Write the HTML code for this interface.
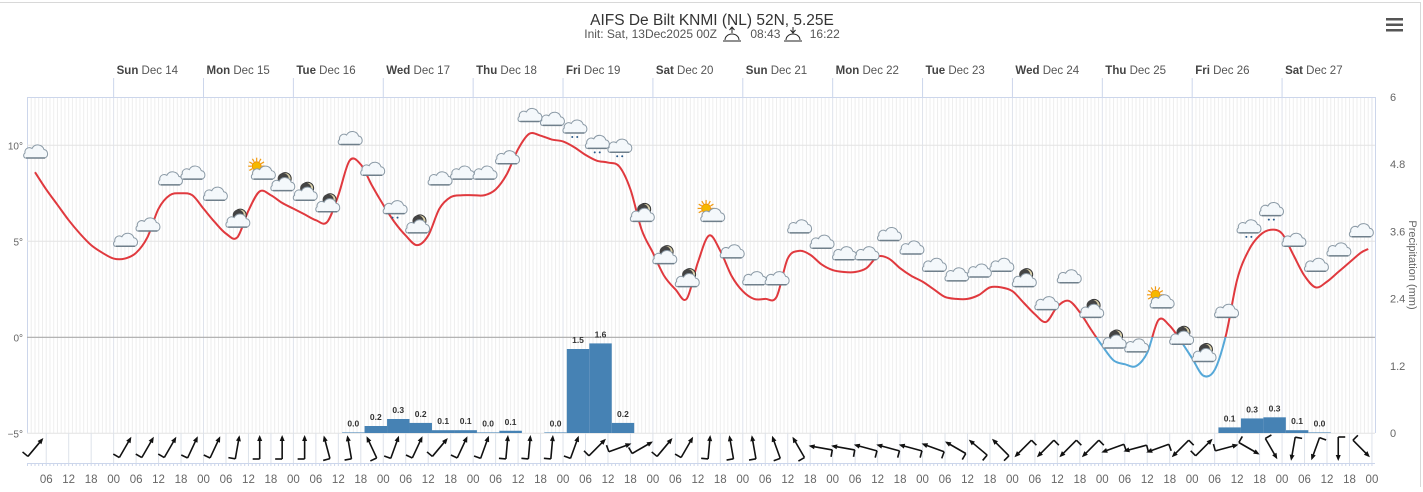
<!DOCTYPE html>
<html><head><meta charset="utf-8"><style>
html,body{margin:0;padding:0;background:#fff;}
body{width:1423px;height:487px;overflow:hidden;font-family:"Liberation Sans",sans-serif;}
svg text{font-family:"Liberation Sans",sans-serif;}
</style></head><body>
<svg id="chart" width="1423" height="487" viewBox="0 0 1423 487" xmlns="http://www.w3.org/2000/svg">
<line x1="0" y1="2.5" x2="1420" y2="2.5" stroke="#d8d8d8"/>
<line x1="1420.5" y1="2" x2="1420.5" y2="487" stroke="#d8d8d8"/>
<text x="712" y="25" text-anchor="middle" font-size="15.5" fill="#333">AIFS De Bilt KNMI (NL) 52N, 5.25E</text>
<text x="712" y="38" text-anchor="middle" font-size="12" fill="#555">Init: Sat, 13Dec2025 00Z <tspan dx="30">08:43</tspan> <tspan dx="26">16:22</tspan></text>
<g stroke="#222" fill="none" stroke-width="1"><path d="M725 40 a7 6 0 0 1 14 0"/><line x1="723" y1="41" x2="741" y2="41"/><line x1="732" y1="27" x2="732" y2="33"/><path d="M729.5 30 l2.5-3 2.5 3"/></g>
<g stroke="#222" fill="none" stroke-width="1"><path d="M786 40 a7 6 0 0 1 14 0"/><line x1="784" y1="41" x2="802" y2="41"/><line x1="793" y1="27" x2="793" y2="33"/><path d="M790.5 30 l2.5 3 2.5-3"/></g>
<g fill="#555"><rect x="1386" y="18" width="17" height="2.5"/><rect x="1386" y="23.5" width="17" height="2.5"/><rect x="1386" y="29" width="17" height="2.5"/></g>
<g id="grid"></g><g id="bars"></g><g id="temp"></g><g id="icons"></g><g id="wind"></g><g id="axes"></g>
<defs>
<clipPath id="above"><rect x="0" y="0" width="1423" height="337.3"/></clipPath>
<clipPath id="below"><rect x="0" y="337.3" width="1423" height="200"/></clipPath>
</defs>
</svg>
<script>
const tempHours=[3,6,9,12,15,18,21,24,27,30,33,36,39,42,45,48,51,54,57,60,63,66,69,72,75,78,81,84,87,90,93,96,99,102,105,108,111,114,117,120,123,126,129,132,135,138,141,144,147,150,153,156,159,162,165,168,171,174,177,180,183,186,189,192,195,198,201,204,207,210,213,216,219,222,225,228,231,234,237,240,243,246,249,252,255,258,261,264,267,270,273,276,279,282,285,288,291,294,297,300,303,306,309,312,315,318,321,324,327,330,333,336,339,342,345,348,351,354,357,359];
const tempValues=[8.6,7.7,6.9,6.1,5.4,4.8,4.4,4.1,4.1,4.4,5.2,6.7,7.4,7.5,7.4,6.7,6.0,5.4,5.2,6.6,7.6,7.4,7.0,6.7,6.4,6.1,6.0,7.4,9.2,9.0,7.9,6.9,6.0,5.3,4.8,5.3,6.7,7.3,7.4,7.4,7.4,7.7,8.5,9.8,10.6,10.5,10.3,10.2,9.9,9.5,9.2,9.1,8.9,7.7,5.6,4.4,3.2,2.5,2.0,3.9,5.3,4.5,3.2,2.4,2.0,2.0,2.1,4.1,4.5,4.3,3.8,3.5,3.4,3.4,3.6,4.2,4.1,3.6,3.2,2.9,2.5,2.1,2.0,2.0,2.2,2.6,2.6,2.4,1.8,1.2,0.8,1.6,1.9,1.3,0.4,-0.45,-1.2,-1.4,-1.5,-0.8,0.9,0.6,-0.2,-1.1,-2.0,-1.7,0.1,3.0,4.5,5.3,5.6,5.4,4.3,3.2,2.6,2.9,3.4,3.9,4.4,4.6];
const precipHours=[88,94,100,106,112,118,124,130,142,148,154,160,322,328,334,340,346];
const precipValues=[0.01,0.125,0.25,0.18,0.05,0.05,0.01,0.04,0.01,1.5,1.6,0.18,0.1,0.26,0.28,0.05,0.01];
const precipLabels=["0.0","0.2","0.3","0.2","0.1","0.1","0.0","0.1","0.0","1.5","1.6","0.2","0.1","0.3","0.3","0.1","0.0"];
const symbolHours=[3,27,33,39,45,51,57,63,69,75,81,87,93,99,105,111,117,123,129,135,141,147,153,159,165,171,177,183,189,195,201,207,213,219,225,231,237,243,249,255,261,267,273,279,285,291,297,303,309,315,321,327,333,339,345,351,357];
const symbolLevels=[9.6,5.0,5.8,8.2,8.5,7.4,6.0,8.6,7.9,7.4,6.8,10.3,8.7,6.7,5.7,8.2,8.5,8.5,9.3,11.5,11.3,10.9,10.1,9.9,6.3,4.1,2.9,6.4,4.4,3.0,3.0,5.7,4.9,4.3,4.3,5.3,4.6,3.7,3.2,3.4,3.7,2.9,1.7,3.1,1.3,-0.3,-0.5,1.9,-0.1,-1.0,1.3,5.7,6.6,5.0,3.7,4.5,5.5];
const symbolTypes=("c"+"ccccc"+"msmmm"+"cc"+"r"+"m"+"cccccc"+"rrr"+"mmm"+"s"+"ccccccccccccc"+"m"+"cc"+"mm"+"c"+"s"+"mm"+"c"+"rr"+"cccc").split("");
const windDirs=[40,30,30,30,25,25,10,0,0,0,-15,-10,-25,20,25,40,25,20,5,5,5,20,45,70,60,40,30,5,-10,-10,-20,-30,-80,-80,-75,-75,-75,-70,-60,-50,-45,-135,-135,-135,-135,-110,-105,-110,-135,45,75,120,150,190,200,180,135];
const dayLabels=[["Sun","Dec 14"],["Mon","Dec 15"],["Tue","Dec 16"],["Wed","Dec 17"],["Thu","Dec 18"],["Fri","Dec 19"],["Sat","Dec 20"],["Sun","Dec 21"],["Mon","Dec 22"],["Tue","Dec 23"],["Wed","Dec 24"],["Thu","Dec 25"],["Fri","Dec 26"],["Sat","Dec 27"]];
const tempTicks=[10,5,0,-5];
const precipTicks=["0","1.2","2.4","3.6","4.8","6"];

const NS="http://www.w3.org/2000/svg";
const L=27,R=1375,T=97,B=433;
const X=h=>23.75+3.745*h;
const YT=t=>337.3-19.2*t;
const YP=p=>433-56*p;
function mk(tag,attrs,parent){const e=document.createElementNS(NS,tag);for(const k in attrs)e.setAttribute(k,attrs[k]);parent.appendChild(e);return e;}
const grid=document.getElementById('grid'),axes=document.getElementById('axes');
for(let h=1;h<=360;h++){const x=X(h);if(x<=L||x>=R)continue;
 const day=h%24===0;
 const ln=mk('line',{x1:x,y1:T,x2:x,y2:B,stroke:day?'#dfe3ec':'#eeeeee','stroke-width':1},grid);
 
 }
mk('line',{x1:L,y1:T+0.5,x2:R,y2:T+0.5,stroke:'#ccd6eb'},grid);
mk('line',{x1:L+0.5,y1:T,x2:L+0.5,y2:B,stroke:'#ccd6eb'},grid);
mk('line',{x1:R+0.5,y1:T,x2:R+0.5,y2:B,stroke:'#ccd6eb'},grid);
tempTicks.forEach(t=>{const y=YT(t);
 const g=mk('line',{x1:L,y1:y,x2:R,y2:y,stroke:t===0?'#aaaaaa':'#e3e3e3','stroke-width':t===0?1.2:1},grid);
 
 const tx=mk('text',{x:23,y:y+4,'text-anchor':'end','font-size':10,fill:'#666'},axes);
 tx.textContent=(t<0?'−':'')+Math.abs(t)+'°';
 });
precipTicks.forEach((p,i)=>{const y=YP(+p);
 const tx=mk('text',{x:1390,y:y+4,'font-size':11,fill:'#666'},axes);tx.textContent=p;
 });
const rt=mk('text',{x:0,y:0,'font-size':11,fill:'#666','text-anchor':'middle',transform:'translate(1409,265) rotate(90)'},axes);
rt.textContent='Precipitation (mm)';
dayLabels.forEach((d,i)=>{const x=X(24*(i+1));
 const l=mk('line',{x1:x,y1:78,x2:x,y2:T,stroke:'#ccd6eb'},axes);
 
 const tx=mk('text',{x:x+3,y:74,'font-size':11.5,fill:'#555'},axes);
 tx.innerHTML='<tspan font-weight="bold" fill="#444">'+d[0]+'</tspan> '+d[1];
 });
const wind=document.getElementById('wind');
mk('line',{x1:L,y1:463.5,x2:R,y2:463.5,stroke:'#ccd6eb'},wind);
for(let h=6;h<=360;h+=6){const x=X(h);if(x>=R)break;
 mk('line',{x1:x,y1:B,x2:x,y2:463,stroke:'#dde2ea'},wind);
 const tx=mk('text',{x:x,y:483,'text-anchor':'middle','font-size':11.5,fill:'#666'},axes);
 tx.textContent=String(h%24).padStart(2,'0');
 }
for(let h=1;h<=360;h++){const x=X(h);if(x>=R)break;mk('line',{x1:x,y1:463,x2:x,y2:466,stroke:'#ccd6eb'},wind);}
symbolHours.forEach((h,i)=>{const a=windDirs[i]*Math.PI/180;const cx=X(h),cy=448;
 const dx=Math.sin(a),dy=-Math.cos(a),len=11;
 const x1=cx-dx*len,y1=cy-dy*len,x2=cx+dx*len,y2=cy+dy*len;
 const g=mk('g',{stroke:'#111','stroke-width':1.6,fill:'#111'},wind);
 
 mk('line',{x1:x1,y1:y1,x2:x2,y2:y2},g);
 const px=-dy,py=dx;
 mk('polygon',{points:`${x2+dx*2},${y2+dy*2} ${x2-dx*4+px*2.5},${y2-dy*4+py*2.5} ${x2-dx*4-px*2.5},${y2-dy*4-py*2.5}`,stroke:'none'},g);
 mk('line',{x1:x1,y1:y1,x2:x1-px*7,y2:y1-py*7},g);});
const bars=document.getElementById('bars');
precipHours.forEach((h,i)=>{const x=X(h)-11.2,y=YP(precipValues[i]);
 const r=mk('rect',{x:x,y:y,width:22.46,height:B-y,fill:'#4682b4'},bars);
 
 const tx=mk('text',{x:X(h),y:y-6,'text-anchor':'middle','font-size':8.5,'font-weight':'bold',fill:'#333'},bars);
 tx.textContent=precipLabels[i];});
const pts=tempHours.map((h,i)=>[X(h),YT(tempValues[i])]);
let d=`M${pts[0][0]},${pts[0][1]}`;
for(let i=0;i<pts.length-1;i++){const p0=pts[i-1]||pts[i],p1=pts[i],p2=pts[i+1],p3=pts[i+2]||p2;
 d+=` C${p1[0]+(p2[0]-p0[0])/6},${p1[1]+(p2[1]-p0[1])/6} ${p2[0]-(p3[0]-p1[0])/6},${p2[1]-(p3[1]-p1[1])/6} ${p2[0]},${p2[1]}`;}
const temp=document.getElementById('temp');
const t1=mk('path',{d:d,fill:'none',stroke:'#e0393e','stroke-width':2,'clip-path':'url(#above)'},temp);

const t2=mk('path',{d:d,fill:'none',stroke:'#56a8d8','stroke-width':2,'clip-path':'url(#below)'},temp);

const icons=document.getElementById('icons');
function cloud(g,x,y){mk('path',{d:`M${x-10},${y+5} h20 a4.5 4.5 0 0 0 -1 -8.5 a6.5 6.5 0 0 0 -12 -1 a4.5 4.5 0 0 0 -7 4.5 a3 3 0 0 0 0 5z`,fill:'#f4f8fb',stroke:'#8b9aa6','stroke-width':1},g);
 mk('line',{x1:x-9,y1:y+5,x2:x+10,y2:y+5,stroke:'#6f7f8b','stroke-width':1.5},g);}
symbolHours.forEach((h,i)=>{const x=X(h),y=YT(symbolLevels[i]),t=symbolTypes[i];
 const g=mk('g',{},icons);
 
 if(t==='m'){mk('circle',{cx:x+3,cy:y-7,r:6,fill:'#d9cfa8',stroke:'#333','stroke-width':1},g);mk('circle',{cx:x+1,cy:y-7,r:5.5,fill:'#444'},g);}
 if(t==='s'){for(let k=0;k<12;k++){const a=k*Math.PI/6;mk('line',{x1:x-3+Math.cos(a)*5,y1:y-6+Math.sin(a)*5,x2:x-3+Math.cos(a)*8.5,y2:y-6+Math.sin(a)*8.5,stroke:'#f39c12','stroke-width':1.2},g);}
  mk('circle',{cx:x-3,cy:y-6,r:4.5,fill:'#f5b800',stroke:'#f08a00','stroke-width':0.8},g);}
 cloud(g,x+(t==='s'?3:0),y+(t==='s'?2:0));
 if(t==='r'){mk('circle',{cx:x-2,cy:y+9,r:1,fill:'#2a5a8a'},g);mk('circle',{cx:x+3,cy:y+9,r:1,fill:'#2a5a8a'},g);}});
</script>
</body></html>
